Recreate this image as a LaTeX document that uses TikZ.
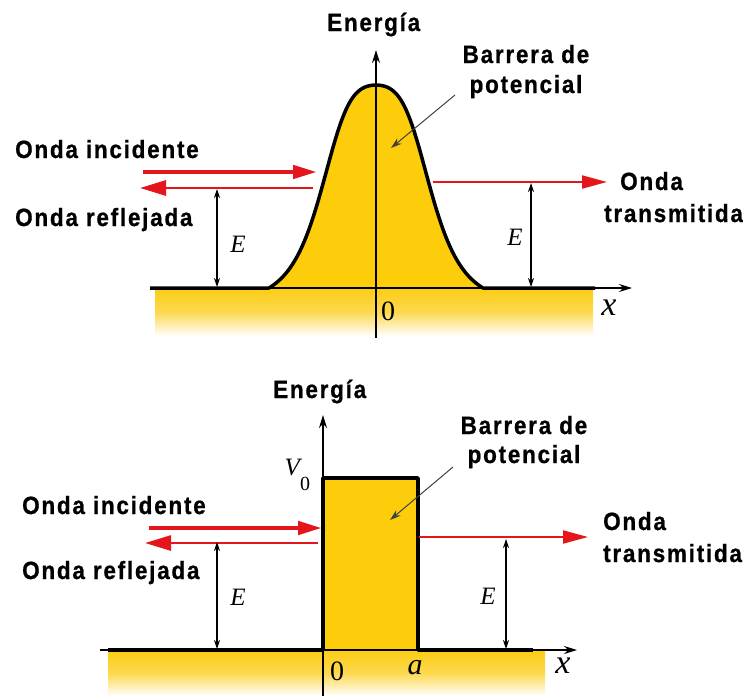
\documentclass[tikz,border=0pt]{standalone}
\usepackage{fontspec}
\setmainfont{Liberation Serif}
\newfontfamily\labfont[FakeStretch=0.9,LetterSpace=7,FakeBold=0.8]{Liberation Sans Bold}
\usetikzlibrary{arrows.meta}
\definecolor{barrier}{RGB}{253,204,10}
\definecolor{ground}{RGB}{252,204,20}
\definecolor{wavered}{RGB}{228,22,28}
\tikzset{
  lab/.style={font=\labfont\fontsize{25}{27}\selectfont, inner sep=0pt},
  mth/.style={font=\fontsize{25}{25}\selectfont\itshape, inner sep=0pt},
  num/.style={font=\fontsize{28}{28}\selectfont, inner sep=0pt},
  axisline/.style={line width=1.5pt, -{Stealth[length=13pt,width=8pt]}},
  outline/.style={line width=3.5pt, line join=round},
  eline/.style={line width=1.2pt, {Stealth[length=9pt,width=6pt]}-{Stealth[length=9pt,width=6pt]}},
  incid/.style={wavered, line width=4.5pt, -{Triangle[length=24pt,width=13pt]}},
  refl/.style={wavered, line width=2.8pt, -{Triangle[length=26pt,width=15pt]}},
  trans/.style={wavered, line width=2pt, -{Triangle[length=25pt,width=13pt]}},
  pointer/.style={draw=black!75, line width=1pt, -{Stealth[length=11pt,width=7pt]}},
  groundfill/.style={top color=ground, bottom color=white, middle color=ground!75}
}
\begin{document}
\begin{tikzpicture}[x=1pt,y=-1pt,
  declare function={bell(\d)=288-221.6*(1/(1+0.25*(\d*\d/3600)+(\d*\d/3600)*(\d*\d/3600))-0.084);}]
\useasboundingbox (0,0) rectangle (743,696);
% ================= TOP: smooth barrier =================
\shade[groundfill] (155,288) rectangle (593,336);
\fill[barrier] (269,288) -- plot[domain=-107:107,samples=151] ({376+\x},{bell(\x)}) -- cycle;
\coordinate (tXs) at (150,288);
\coordinate (tXe) at (632,288);
\draw[axisline] (tXs) -- (tXe);
\draw[outline] (150,288) -- (269,288) -- plot[domain=-107:107,samples=151] ({376+\x},{bell(\x)}) -- (595,288);
\coordinate (tYs) at (376,338);
\coordinate (tYe) at (376,50);
\draw[axisline] (tYs) -- (tYe);
% red arrows
\coordinate (tIa) at (143,172); \coordinate (tIb) at (317,172);
\coordinate (tRa) at (313,188); \coordinate (tRb) at (140,188);
\coordinate (tTa) at (433,182); \coordinate (tTb) at (607,182);
\draw[incid] (tIa) -- (tIb);
\draw[refl] (tRa) -- (tRb);
\draw[trans] (tTa) -- (tTb);
% E arrows
\coordinate (tEla) at (217,189); \coordinate (tElb) at (217,287);
\coordinate (tEra) at (531,183); \coordinate (tErb) at (531,287);
\draw[eline] (tEla) -- (tElb);
\draw[eline] (tEra) -- (tErb);
% pointer
\coordinate (tPa) at (455,95); \coordinate (tPb) at (391,148);
\draw[pointer] (tPa) -- (tPb);
% labels
\node[lab,anchor=base west] (tEn) at (327,31) {Energía};
\node[lab,anchor=base] (tB1) at (526,63) {Barrera de};
\node[lab,anchor=base] (tB2) at (526,93) {potencial};
\node[lab,anchor=base west] (tOi) at (15,158) {Onda incidente};
\node[lab,anchor=base west] (tOr) at (15,226) {Onda reflejada};
\node[lab,anchor=base west] (tOt1) at (620,190) {Onda};
\node[lab,anchor=base west] (tOt2) at (604,222) {transmitida};
\node[mth] (tE1) at (238,244) {E};
\node[mth] (tE2) at (515,237) {E};
\node[num] (tZ) at (388,311) {0};
\node[mth,font=\fontsize{34}{34}\selectfont\itshape] (tX) at (609,308) {x};
% ================= BOTTOM: rectangular barrier =================
\shade[groundfill] (108,650) rectangle (545,696);
\fill[barrier] (323,478) rectangle (418,650);
\coordinate (bXs) at (100,650);
\coordinate (bXe) at (577,650);
\draw[axisline] (bXs) -- (bXe);
\draw[outline] (108,650) -- (323,650) -- (323,478) -- (418,478) -- (418,650) -- (533,650);
\coordinate (bYs) at (323,696);
\coordinate (bYe) at (323,415);
\draw[axisline] (bYs) -- (bYe);
% red arrows
\coordinate (bIa) at (149,528); \coordinate (bIb) at (322,528);
\coordinate (bRa) at (318,543); \coordinate (bRb) at (145,543);
\coordinate (bTa) at (419,537); \coordinate (bTb) at (588,537);
\draw[incid] (bIa) -- (bIb);
\draw[refl] (bRa) -- (bRb);
\draw[trans] (bTa) -- (bTb);
% E arrows
\coordinate (bEla) at (217,542); \coordinate (bElb) at (217,649);
\coordinate (bEra) at (506,539); \coordinate (bErb) at (506,649);
\draw[eline] (bEla) -- (bElb);
\draw[eline] (bEra) -- (bErb);
% pointer
\coordinate (bPa) at (453,467); \coordinate (bPb) at (390,520);
\draw[pointer] (bPa) -- (bPb);
% labels
\node[lab,anchor=base west] (bEn) at (273,398) {Energía};
\node[lab,anchor=base] (bB1) at (524,434) {Barrera de};
\node[lab,anchor=base] (bB2) at (524,463) {potencial};
\node[lab,anchor=base west] (bOi) at (22,514) {Onda incidente};
\node[lab,anchor=base west] (bOr) at (22,579) {Onda reflejada};
\node[lab,anchor=base west] (bOt1) at (603,530) {Onda};
\node[lab,anchor=base west] (bOt2) at (603,562) {transmitida};
\node[mth] (bE1) at (238,597) {E};
\node[mth] (bE2) at (488,596) {E};
\node[num] (bZ) at (337,671) {0};
\node[mth,font=\fontsize{30}{30}\selectfont\itshape] (bA) at (415,668) {a};
\node[mth,font=\fontsize{34}{34}\selectfont\itshape] (bX) at (563,666) {x};
\node[mth,anchor=base east] (bV) at (300,475) {V};
\node[num,font=\fontsize{20}{20}\selectfont,anchor=base west] (bV0) at ([yshift=-15pt]bV.base east) {0};
\end{tikzpicture}
\end{document}
